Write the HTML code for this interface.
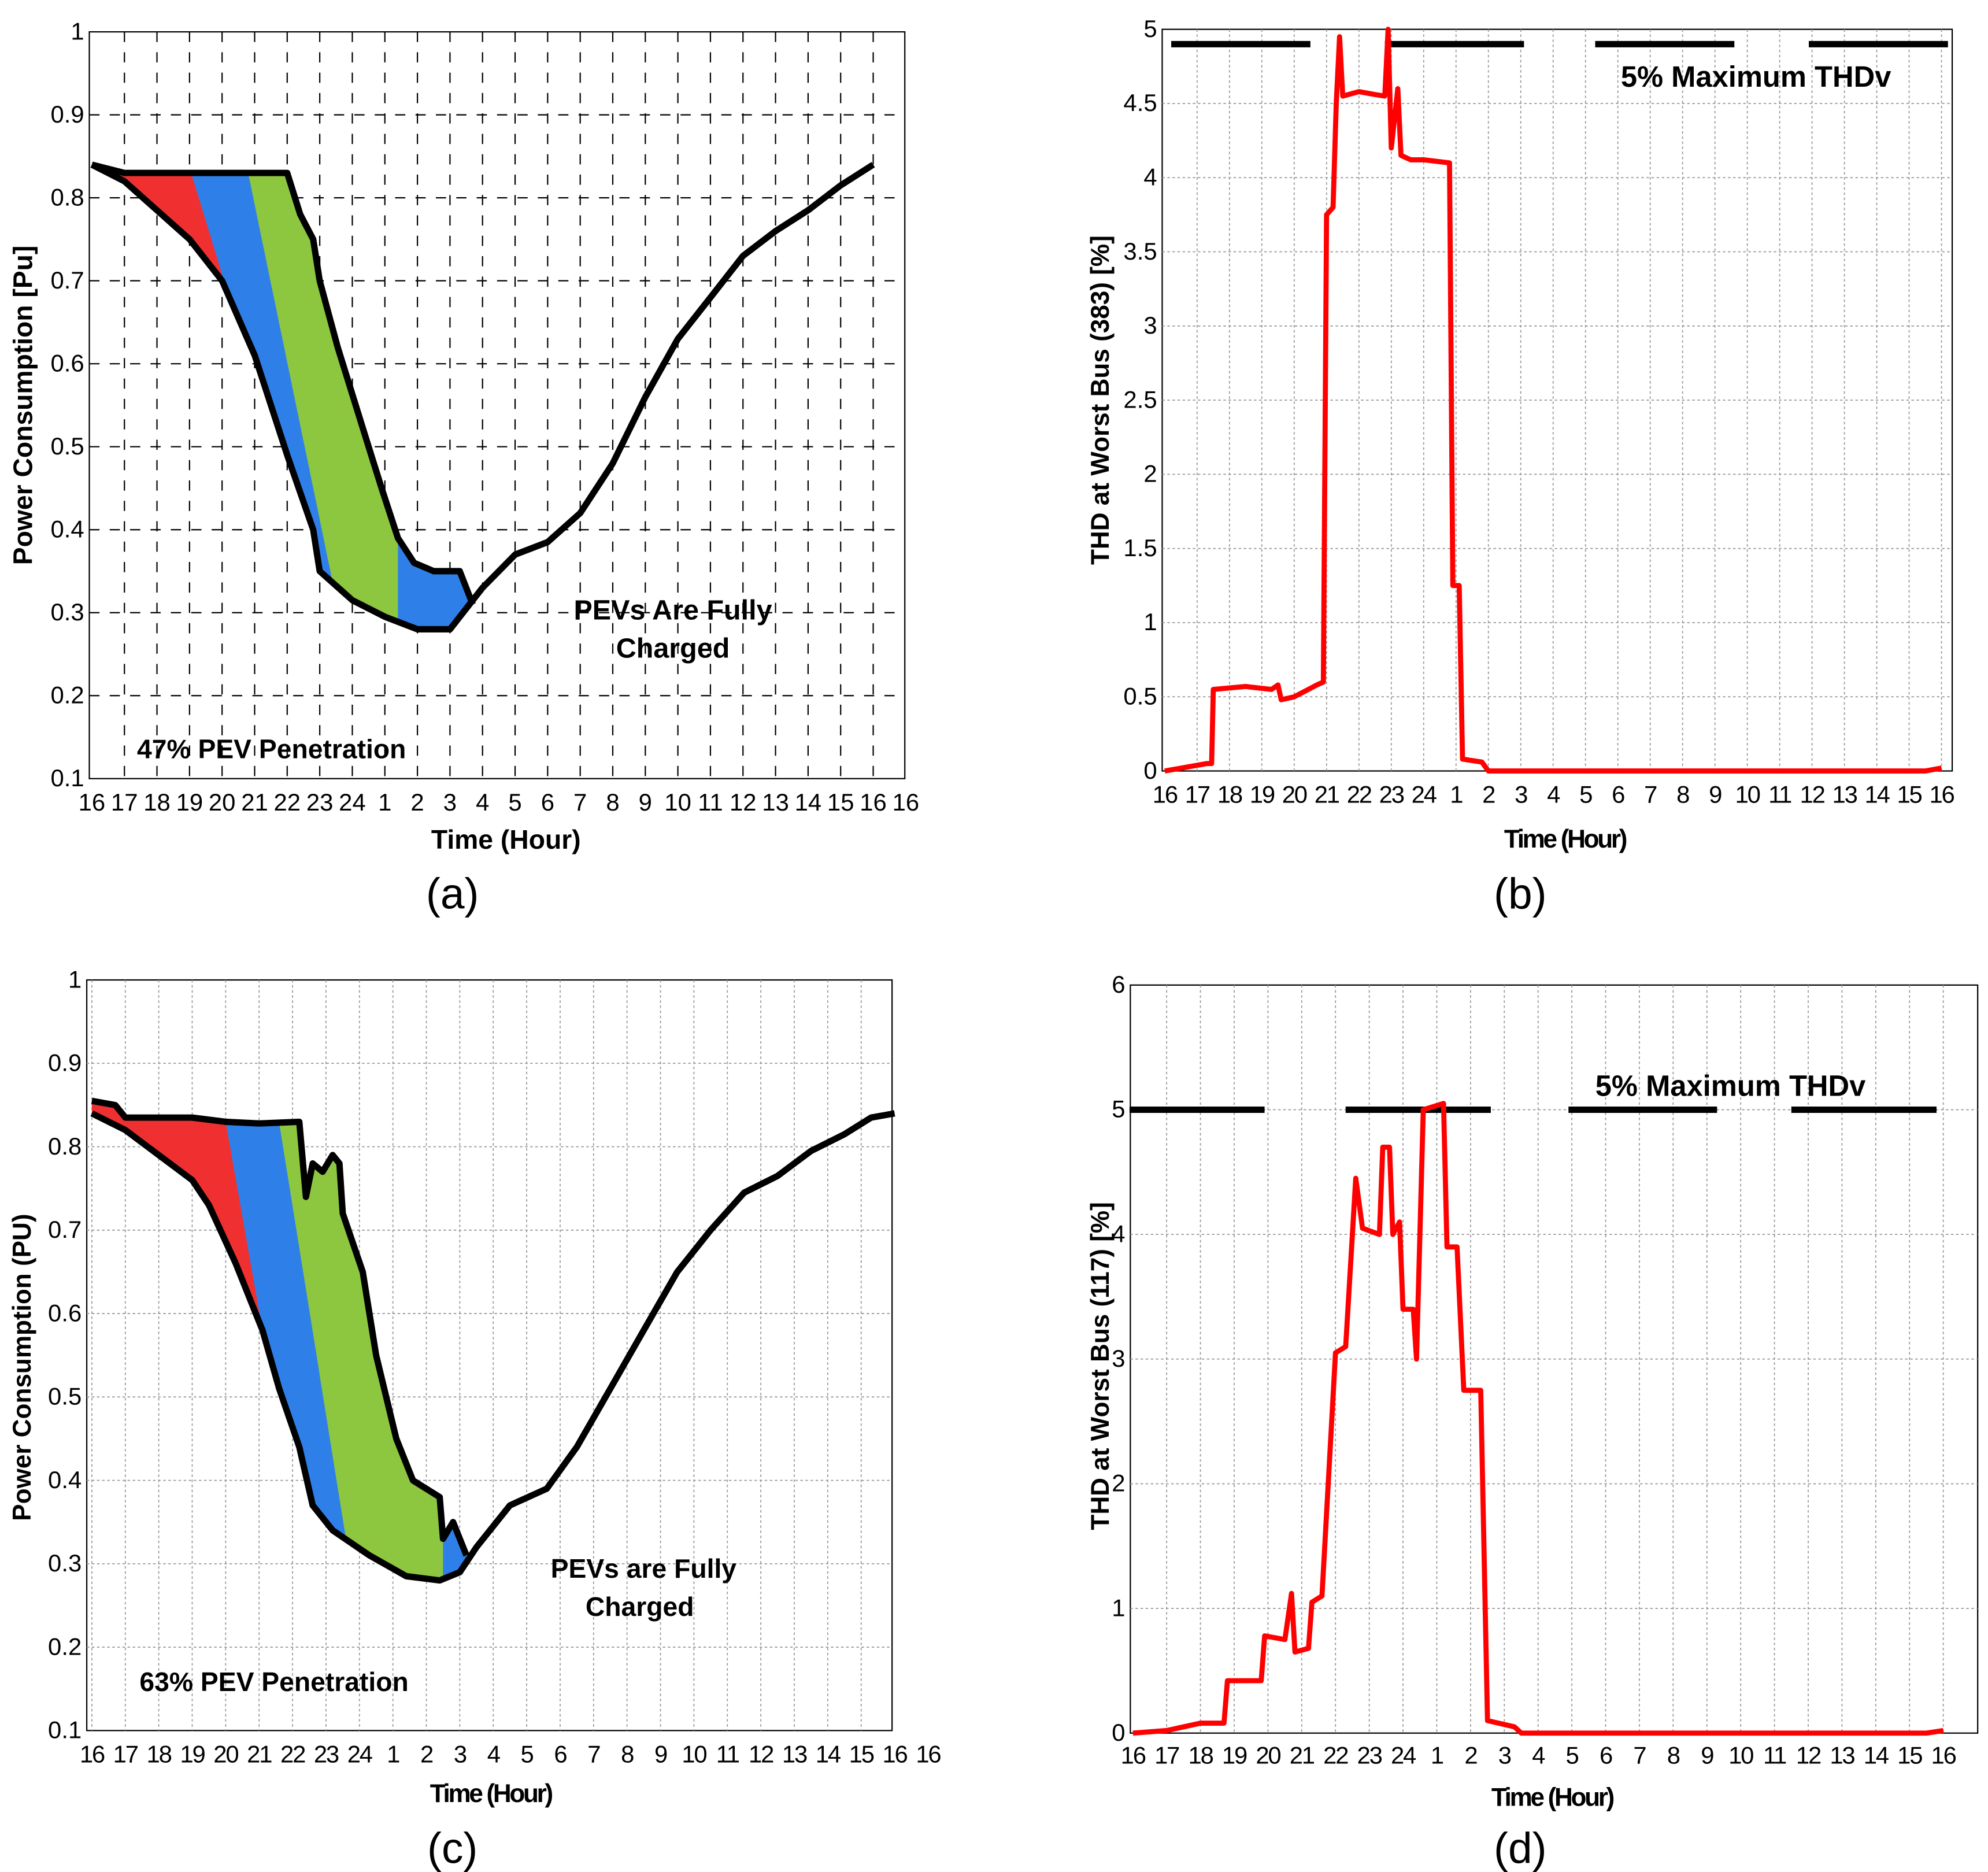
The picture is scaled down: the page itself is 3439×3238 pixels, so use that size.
<!DOCTYPE html>
<html><head><meta charset="utf-8"><style>
html,body{margin:0;padding:0;background:#fff;overflow:hidden;}
svg{display:block;}
text{font-family:"Liberation Sans",sans-serif;}
</style></head><body>
<svg id="fig" width="3439" height="3238" viewBox="0 0 1560 1469" xmlns="http://www.w3.org/2000/svg">
<g id="root"></g>
</svg>
<script>
// ---------- data ----------
const hourLabels=["16","17","18","19","20","21","22","23","24","1","2","3","4","5","6","7","8","9","10","11","12","13","14","15","16"];
const hourLabelsA=hourLabels.concat(["16"]);
const baseHoursA=[0,1,2,3,4,5,6,6.8,7,8,9,10,11,12,13,14,15,16,17,18,19,20,21,22,23,24];
const baseA=[0.84,0.82,0.785,0.75,0.70,0.61,0.49,0.40,0.35,0.315,0.295,0.28,0.28,0.33,0.37,0.385,0.42,0.48,0.56,0.63,0.68,0.73,0.76,0.785,0.815,0.84];
const baseHoursC=[0,1,2,3,3.5,4.3,5.1,5.6,6.2,6.6,7.2,8.3,9.4,10.4,11,11.5,12.5,13.6,14.5,15.5,16.5,17.5,18.5,19.5,20.5,21.5,22.5,23.3,24];
const baseC=[0.84,0.82,0.79,0.76,0.73,0.66,0.58,0.51,0.44,0.37,0.34,0.31,0.285,0.28,0.29,0.32,0.37,0.39,0.44,0.51,0.58,0.65,0.70,0.745,0.765,0.795,0.815,0.835,0.84];
const envHoursA=[0,1,2,3,4,5,6,6.4,6.8,7,7.55,8.5,8.9,9.4,9.9,10.5,11.3,11.7];
const envA=[0.84,0.83,0.83,0.83,0.83,0.83,0.83,0.78,0.75,0.70,0.62,0.50,0.45,0.39,0.36,0.35,0.35,0.31];
const envHoursC=[0,0.7,1,2,3,4,5,6.2,6.4,6.6,6.9,7.2,7.4,7.5,8.1,8.5,9.1,9.6,10.4,10.5,10.8,11.2];
const envC=[0.855,0.85,0.835,0.835,0.835,0.83,0.828,0.83,0.74,0.78,0.77,0.79,0.78,0.72,0.65,0.55,0.45,0.40,0.38,0.33,0.35,0.31];
const thdHoursB=[0,1.3,1.45,1.5,2.5,3.3,3.5,3.6,4,4.7,4.9,5,5.2,5.3,5.4,5.5,6,6.5,6.8,6.9,7.0,7.2,7.3,7.6,8,8.8,8.9,9.1,9.2,9.8,10,23.5,24];
const thdB=[0,0.05,0.05,0.55,0.57,0.55,0.58,0.48,0.5,0.58,0.6,3.75,3.8,4.5,4.95,4.55,4.58,4.56,4.55,5,4.2,4.6,4.15,4.12,4.12,4.1,1.25,1.25,0.08,0.06,0,0,0.02];
const thdHoursD=[0,1,2,2.7,2.8,3.8,3.9,4.5,4.7,4.8,5.2,5.3,5.6,6.0,6.3,6.6,6.8,7.3,7.4,7.6,7.7,7.9,8.0,8.3,8.4,8.6,9.2,9.3,9.6,9.8,10.3,10.5,11.3,11.5,23.5,24];
const thdD=[0,0.02,0.08,0.08,0.42,0.42,0.78,0.75,1.12,0.65,0.68,1.05,1.1,3.05,3.1,4.45,4.05,4.0,4.7,4.7,4.0,4.1,3.4,3.4,3.0,5.0,5.05,3.9,3.9,2.75,2.75,0.1,0.05,0,0,0.02];
const yTicksPU=[0.1,0.2,0.3,0.4,0.5,0.6,0.7,0.8,0.9,1];
const yTicksB=[0,0.5,1,1.5,2,2.5,3,3.5,4,4.5,5];
const yTicksD=[0,1,2,3,4,5,6];
const limitB=[[0.2,4.5],[6.8,11.1],[13.3,17.6],[19.9,24.2]];
const limitD=[[-0.1,3.9],[6.3,10.6],[12.9,17.3],[19.5,23.8]];

const NS="http://www.w3.org/2000/svg";
const root=document.getElementById('root');
function mk(tag,attrs,parent,txt){const e=document.createElementNS(NS,tag);for(const k in attrs)e.setAttribute(k,attrs[k]);if(txt!==undefined)e.textContent=txt;(parent||root).appendChild(e);return e;}
function interp(xs,ys,h){if(h<=xs[0])return ys[0];for(let i=1;i<xs.length;i++){if(h<=xs[i]){const t=(h-xs[i-1])/(xs[i]-xs[i-1]);return ys[i-1]+t*(ys[i]-ys[i-1]);}}return ys[ys.length-1];}

function panel(cfg){
  const g=mk('g',{});
  
  
  const X=h=>cfg.x0+h*cfg.dx, Y=v=>cfg.yb-(v-cfg.vmin)/(cfg.vmax-cfg.vmin)*(cfg.yb-cfg.yt);
  cfg.X=X;cfg.Y=Y;cfg.g=g;
  mk('rect',{x:cfg.px0,y:cfg.yt,width:cfg.px1-cfg.px0,height:cfg.yb-cfg.yt,fill:'#fff',stroke:'#000','stroke-width':1},g);
  const gs=cfg.dashed?{stroke:'#000','stroke-width':1,'stroke-dasharray':'8,8'}:{stroke:'#999','stroke-width':0.8,'stroke-dasharray':'2,2'};
  const grid=mk('g',{},g);
  cfg.labels.forEach((l,i)=>{const x=X(i);if(x>cfg.px0+2&&x<cfg.px1-2)mk('line',Object.assign({x1:x,x2:x,y1:cfg.yt,y2:cfg.yb},gs),grid);});
  cfg.yticks.forEach(v=>{const y=Y(v);if(y>cfg.yt+2&&y<cfg.yb-2)mk('line',Object.assign({x1:cfg.px0,x2:cfg.px1,y1:y,y2:y},gs),grid);});
  cfg.labels.forEach((l,i)=>{const t=mk('text',{x:X(i),y:cfg.yb+cfg.xlOff,'font-size':cfg.fs,'text-anchor':'middle','letter-spacing':cfg.ls||0},g,l);});
  cfg.yticks.forEach(v=>{const t=mk('text',{x:cfg.px0-4,y:Y(v)+6,'font-size':cfg.fs,'text-anchor':'end'},g,String(v));});
  const xt=mk('text',{x:cfg.xtx,y:cfg.xty,'font-size':cfg.tfs,'font-weight':'bold','text-anchor':'middle','letter-spacing':cfg.tls||0},g,cfg.xtitle);
  
  const yt=mk('text',{x:0,y:0,'font-size':cfg.tfs,'font-weight':'bold','text-anchor':'middle',transform:`translate(${cfg.ytx},${cfg.yty}) rotate(-90)`},g,cfg.ytitle);
  
  const cap=mk('text',{x:cfg.capx,y:cfg.capy,'font-size':34,'text-anchor':'middle','font-family':'Liberation Serif, serif'},g,cfg.cap);
  
  return cfg;
}
function pts(cfg,xs,ys){return xs.map((h,i)=>cfg.X(h).toFixed(1)+','+cfg.Y(ys[i]).toFixed(1)).join(' ');}
function region(cfg,h0,h1,topFn,lowFn,color,name){
  const p=[];const n=80;
  for(let i=0;i<=n;i++){const h=h0+(h1-h0)*i/n;p.push(cfg.X(h).toFixed(1)+','+cfg.Y(topFn(h)).toFixed(1));}
  for(let i=n;i>=0;i--){const h=h0+(h1-h0)*i/n;p.push(cfg.X(h).toFixed(1)+','+cfg.Y(lowFn(h)).toFixed(1));}
  const e=mk('polygon',{points:p.join(' '),fill:color,stroke:'none'},cfg.g);
  
}
function loadPanel(cfg,bH,bV,envH,envV,red,blue,tail){
  const base=h=>interp(bH,bV,h), env=h=>Math.max(interp(envH,envV,h),base(h));
  const clamp=(v,h)=>Math.min(env(h),Math.max(base(h),v));
  const slant=(h0,h1)=>h=>{ if(h<=h0) return env(h); const a=env(h0), b=base(h1); return clamp(a+(b-a)*(h-h0)/(h1-h0),h); };
  const envEnd=envH[envH.length-1];
  region(cfg,0,envEnd,env,base,'#8dc63f','charging-region-green');
  region(cfg,tail[0],tail[1],env,base,'#2f7fe8','charging-region-blue-tail');
  region(cfg,0,blue[1],slant(blue[0],blue[1]),base,'#2f7fe8','charging-region-blue');
  region(cfg,0,red[1],slant(red[0],red[1]),base,'#f03030','charging-region-red');
  const l1=mk('polyline',{points:pts(cfg,envH,envV),fill:'none',stroke:'#000','stroke-width':5,'stroke-linejoin':'round'},cfg.g);
  
  const l2=mk('polyline',{points:pts(cfg,bH,bV),fill:'none',stroke:'#000','stroke-width':5,'stroke-linejoin':'round'},cfg.g);
  
}
function thdPanel(cfg,xs,ys,lim,limV){
  lim.forEach(s=>{const l=mk('line',{x1:cfg.X(s[0]),x2:cfg.X(s[1]),y1:cfg.Y(limV),y2:cfg.Y(limV),stroke:'#000','stroke-width':5},cfg.g);});
  const l=mk('polyline',{points:pts(cfg,xs,ys),fill:'none',stroke:'#f00','stroke-width':4,'stroke-linejoin':'round'},cfg.g);
  
}
function note(cfg,x,y,txt,fs,serif,name){const t=mk('text',{x:x,y:y,'font-size':fs,'font-weight':'bold','text-anchor':'middle','font-family':serif?'Liberation Serif, serif':'Liberation Sans, sans-serif'},cfg.g,txt);}

// (a)
const A=panel({name:'panel-a',px0:70,px1:710,yt:25,yb:611,x0:72,dx:25.55,vmin:0.1,vmax:1,labels:hourLabelsA,yticks:yTicksPU,dashed:true,fs:19,xlOff:25,tfs:21,xtitle:'Time (Hour)',xtx:397,xty:666,ytitle:'Power Consumption [Pu]',ytx:25,yty:318,cap:'(a)',capx:355,capy:713});
loadPanel(A,baseHoursA,baseA,envHoursA,envA,[3.05,4.2],[4.8,7.4],[9.4,11.7]);
note(A,528,486,'PEVs Are Fully',22,true,'annotation-fully-charged');
note(A,528,516,'Charged',22,true,'annotation-fully-charged');
note(A,213,595,'47% PEV Penetration',21,false,'annotation-penetration');
// (b)
const B=panel({name:'panel-b',px0:912,px1:1532,yt:23,yb:605,x0:914,dx:25.4,vmin:0,vmax:5,labels:hourLabels,yticks:yTicksB,dashed:false,fs:19,xlOff:25,tfs:20,tls:-1.5,ls:-1,xtitle:'Time (Hour)',xtx:1228,xty:665,ytitle:'THD at Worst Bus (383) [%]',ytx:870,yty:314,cap:'(b)',capx:1193,capy:713});
thdPanel(B,thdHoursB,thdB,limitB,4.9);
note(B,1378,68,'5% Maximum THDv',23,false,'annotation-limit');
// (c)
const C=panel({name:'panel-c',px0:68,px1:700,yt:769,yb:1358,x0:72,dx:26.25,vmin:0.1,vmax:1,labels:hourLabelsA,yticks:yTicksPU,dashed:false,fs:19,xlOff:25,ls:-1,tfs:20,tls:-1.5,xtitle:'Time (Hour)',xtx:385,xty:1414,ytitle:'Power Consumption (PU)',ytx:24,yty:1073,cap:'(c)',capx:355,capy:1462});
loadPanel(C,baseHoursC,baseC,envHoursC,envC,[4.0,5.1],[5.6,7.6],[10.5,11.2]);
note(C,505,1238,'PEVs are Fully',21,false,'annotation-fully-charged');
note(C,502,1268,'Charged',21,false,'annotation-fully-charged');
note(C,215,1327,'63% PEV Penetration',21,false,'annotation-penetration');
// (d)
const D=panel({name:'panel-d',px0:887,px1:1552,yt:773,yb:1360,x0:889,dx:26.5,vmin:0,vmax:6,labels:hourLabels,yticks:yTicksD,dashed:false,fs:19,xlOff:24,ls:-1,tfs:20,tls:-1.5,xtitle:'Time (Hour)',xtx:1218,xty:1417,ytitle:'THD at Worst Bus (117) [%]',ytx:870,yty:1072,cap:'(d)',capx:1193,capy:1462});
thdPanel(D,thdHoursD,thdD,limitD,5);
note(D,1358,860,'5% Maximum THDv',23,false,'annotation-limit');
</script>
</body></html>
